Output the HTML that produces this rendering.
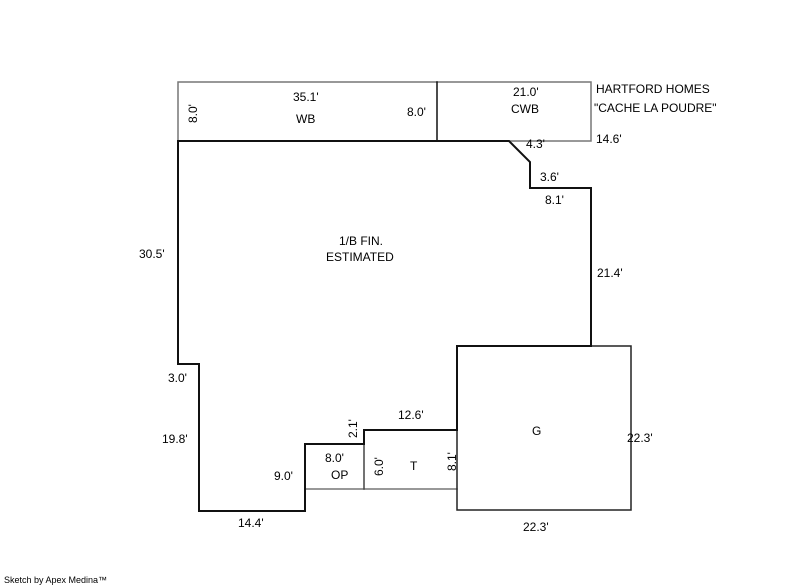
<!DOCTYPE html>
<html><head><style>
body{margin:0;background:#fff;}
svg{display:block;}
text{font-family:"Liberation Sans",Arial,sans-serif;font-size:12px;fill:#000;}
</style></head><body>
<svg width="800" height="587" viewBox="0 0 800 587">
<g fill="none" stroke-linecap="square">
<rect x="178" y="82" width="413" height="59" stroke="#777" stroke-width="1.5"/>
<line x1="437" y1="82" x2="437" y2="141" stroke="#111" stroke-width="1.5"/>
<line x1="305" y1="489" x2="457" y2="489" stroke="#777" stroke-width="1.5"/>
<line x1="364" y1="430" x2="364" y2="489" stroke="#444" stroke-width="1.5"/>
<rect x="457" y="346" width="174" height="164" stroke="#222" stroke-width="1.5"/>
<polyline points="178,141 509,141 530,162 530,188 591,188 591,346 457,346 457,430 364,430 364,444 305,444 305,511 199,511 199,364 178,364 178,141" stroke="#111" stroke-width="2"/>
</g>
<text x="293" y="101">35.1'</text>
<text x="296" y="123">WB</text>
<text x="407" y="116">8.0'</text>
<text transform="translate(197,123) rotate(-90)">8.0'</text>
<text x="513" y="96">21.0'</text>
<text x="511" y="113">CWB</text>
<text x="596" y="93">HARTFORD HOMES</text>
<text x="594" y="112">"CACHE LA POUDRE"</text>
<text x="596" y="143">14.6'</text>
<text x="526" y="148">4.3'</text>
<text x="540" y="181">3.6'</text>
<text x="545" y="204">8.1'</text>
<text x="339" y="245">1/B FIN.</text>
<text x="326" y="261">ESTIMATED</text>
<text x="139" y="258">30.5'</text>
<text x="597" y="277">21.4'</text>
<text x="168" y="382">3.0'</text>
<text x="162" y="443">19.8'</text>
<text x="398" y="419">12.6'</text>
<text transform="translate(357,438) rotate(-90)">2.1'</text>
<text x="532" y="435">G</text>
<text x="627" y="442">22.3'</text>
<text x="325" y="462">8.0'</text>
<text x="331" y="479">OP</text>
<text x="274" y="480">9.0'</text>
<text transform="translate(383,476) rotate(-90)">6.0'</text>
<text x="410" y="470">T</text>
<text transform="translate(456,471) rotate(-90)">8.1'</text>
<text x="238" y="527">14.4'</text>
<text x="523" y="531">22.3'</text>
<text x="4" y="583" style="font-size:9px">Sketch by Apex Medina™</text>
</svg>
</body></html>
